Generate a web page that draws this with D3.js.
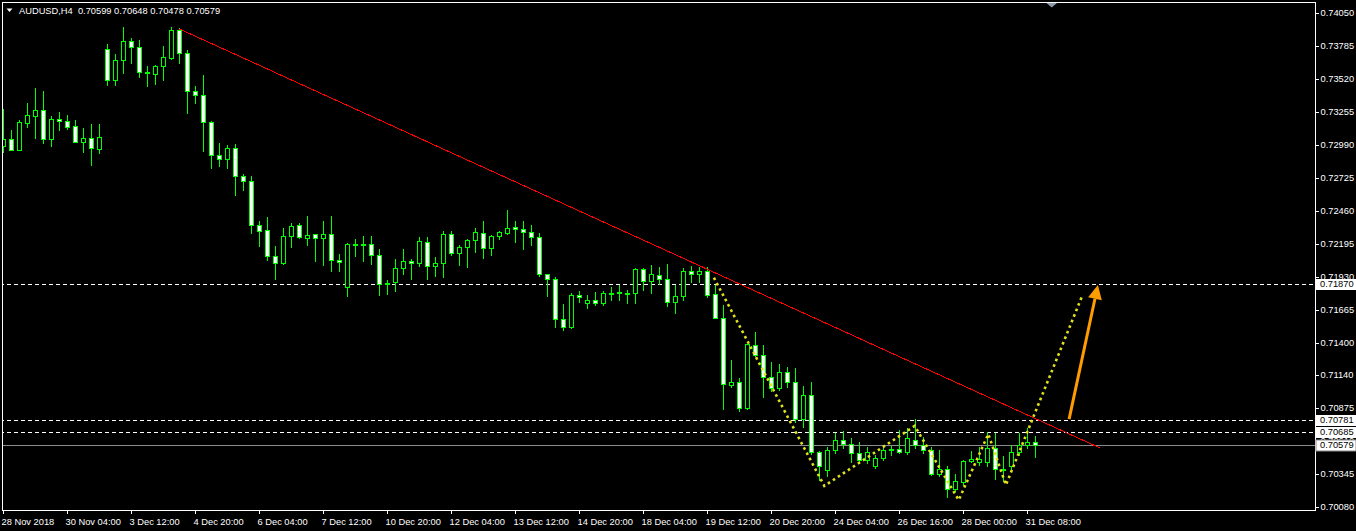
<!DOCTYPE html>
<html><head><meta charset="utf-8">
<script src="https://cdnjs.cloudflare.com/ajax/libs/d3/7.8.5/d3.min.js"></script>
<style>
html,body{margin:0;padding:0;background:#000;overflow:hidden}
svg{display:block}
text{font-family:"Liberation Sans",Arial,sans-serif;font-size:9.3px}
</style></head><body>
<script>
// ---------------- DATA ----------------
const symbolTitle = "AUDUSD,H4  0.70599 0.70648 0.70478 0.70579";

const opens = [0.72976,0.73040,0.72944,0.73161,0.73217,0.73273,0.73040,0.73193,0.73177,0.73137,
0.73016,0.73048,0.72952,0.73763,0.73514,0.73667,0.73827,0.73779,0.73578,0.73562,
0.73619,0.73683,0.73908,0.73731,0.73418,0.73386,0.73169,0.72904,0.72872,0.72960,
0.72743,0.72695,0.72349,0.72309,0.72100,0.72044,0.72253,0.72349,0.72237,0.72277,
0.72237,0.72277,0.72068,0.71851,0.72189,0.72189,0.72189,0.72108,0.71875,0.71884,
0.71996,0.72060,0.72044,0.72205,0.72020,0.72044,0.72277,0.72124,0.72165,0.72221,
0.72285,0.72157,0.72253,0.72285,0.72333,0.72317,0.72293,0.72245,0.71948,0.71908,
0.71594,0.71522,0.71787,0.71715,0.71739,0.71715,0.71803,0.71803,0.71803,0.71803,
0.71988,0.71892,0.71940,0.71908,0.71723,0.71771,0.71972,0.71948,0.71972,0.71795,
0.71602,0.71064,0.71088,0.70879,0.71385,0.71305,0.71128,0.71032,0.71161,0.71088,
0.70783,0.70976,0.70518,0.70381,0.70534,0.70622,0.70590,0.70510,0.70454,0.70413,
0.70470,0.70542,0.70542,0.70518,0.70622,0.70582,0.70534,0.70349,0.70389,0.70221,
0.70277,0.70446,0.70438,0.70438,0.70550,0.70389,0.70413,0.70518,0.70582,0.70599];

const highs = [0.73281,0.73105,0.73185,0.73329,0.73442,0.73418,0.73217,0.73257,0.73233,0.73185,
0.73121,0.73153,0.73153,0.73803,0.73723,0.73932,0.73844,0.73835,0.73619,0.73627,
0.73787,0.73932,0.73924,0.73755,0.73458,0.73554,0.73177,0.73008,0.72984,0.73000,
0.72759,0.72735,0.72374,0.72406,0.72173,0.72325,0.72365,0.72365,0.72414,0.72277,
0.72374,0.72414,0.72116,0.72197,0.72229,0.72261,0.72253,0.72149,0.71900,0.72076,
0.72149,0.72076,0.72245,0.72245,0.72092,0.72301,0.72301,0.72181,0.72229,0.72325,
0.72374,0.72269,0.72301,0.72462,0.72374,0.72374,0.72349,0.72285,0.71950,0.71924,
0.71707,0.71803,0.71819,0.71787,0.71811,0.71819,0.71851,0.71867,0.71827,0.71996,
0.71996,0.72028,0.72004,0.72036,0.71867,0.71996,0.72012,0.72004,0.72004,0.71867,
0.71699,0.71257,0.71120,0.71393,0.71482,0.71385,0.71241,0.71225,0.71201,0.71193,
0.71056,0.71088,0.70526,0.70566,0.70671,0.70687,0.70638,0.70606,0.70558,0.70494,
0.70574,0.70574,0.70695,0.70711,0.70783,0.70646,0.70566,0.70534,0.70413,0.70349,
0.70454,0.70526,0.70558,0.70679,0.70671,0.70486,0.70582,0.70671,0.70711,0.70648];

const lows = [0.72928,0.72944,0.72944,0.73129,0.73048,0.73008,0.72976,0.73105,0.73113,0.73016,
0.72928,0.72831,0.72920,0.73474,0.73474,0.73570,0.73643,0.73538,0.73458,0.73482,
0.73514,0.73675,0.73643,0.73249,0.73329,0.72936,0.72807,0.72823,0.72807,0.72590,
0.72623,0.72285,0.72173,0.72068,0.71908,0.72036,0.72165,0.72237,0.72181,0.72060,
0.72028,0.71972,0.71972,0.71771,0.72100,0.72060,0.72036,0.71787,0.71795,0.71819,
0.71948,0.71908,0.72012,0.71908,0.71932,0.71924,0.72108,0.72028,0.72004,0.72132,
0.72084,0.72108,0.72229,0.72277,0.72205,0.72149,0.72181,0.71932,0.71779,0.71522,
0.71498,0.71514,0.71723,0.71675,0.71699,0.71699,0.71739,0.71739,0.71715,0.71715,
0.71827,0.71803,0.71875,0.71691,0.71642,0.71739,0.71884,0.71884,0.71763,0.71602,
0.70871,0.71040,0.70855,0.70871,0.71289,0.70960,0.71008,0.71016,0.71040,0.70759,
0.70719,0.70502,0.70293,0.70333,0.70510,0.70550,0.70438,0.70438,0.70430,0.70397,
0.70454,0.70494,0.70510,0.70502,0.70550,0.70510,0.70341,0.70333,0.70164,0.70205,
0.70253,0.70438,0.70421,0.70413,0.70301,0.70285,0.70389,0.70494,0.70550,0.70478];

const closes = [0.73040,0.72944,0.73169,0.73225,0.73273,0.73040,0.73193,0.73177,0.73129,0.73016,
0.73048,0.72960,0.73056,0.73514,0.73667,0.73827,0.73779,0.73578,0.73570,0.73619,
0.73691,0.73908,0.73731,0.73418,0.73386,0.73169,0.72904,0.72872,0.72960,0.72743,
0.72695,0.72349,0.72301,0.72100,0.72044,0.72253,0.72341,0.72245,0.72269,0.72237,
0.72277,0.72068,0.72052,0.72189,0.72187,0.72191,0.72108,0.71875,0.71877,0.71996,
0.72060,0.72044,0.72213,0.72020,0.72044,0.72277,0.72124,0.72165,0.72221,0.72293,
0.72157,0.72253,0.72293,0.72325,0.72317,0.72293,0.72245,0.71948,0.71908,0.71594,
0.71522,0.71787,0.71763,0.71739,0.71715,0.71803,0.71801,0.71805,0.71801,0.71988,
0.71892,0.71948,0.71908,0.71723,0.71771,0.71972,0.71948,0.71972,0.71787,0.71602,
0.71072,0.71088,0.70879,0.71393,0.71305,0.71128,0.71032,0.71161,0.71088,0.70783,
0.70976,0.70518,0.70413,0.70534,0.70622,0.70590,0.70510,0.70454,0.70518,0.70470,
0.70534,0.70540,0.70518,0.70638,0.70582,0.70534,0.70349,0.70389,0.70221,0.70285,
0.70446,0.70462,0.70462,0.70550,0.70389,0.70387,0.70518,0.70582,0.70606,0.70579];

const priceTicks = [0.74050,0.73785,0.73520,0.73255,0.72990,0.72725,0.72460,0.72195,
  0.71930,0.71665,0.71400,0.71140,0.70875,0.70610,0.70345,0.70080];

const timeTickIndex = [0,8,16,24,32,40,48,56,64,72,80,88,96,104,112,120,128];
const timeTickLabels = ["28 Nov 2018","30 Nov 04:00","3 Dec 12:00","4 Dec 20:00","6 Dec 04:00",
  "7 Dec 12:00","10 Dec 20:00","12 Dec 04:00","13 Dec 12:00","14 Dec 20:00","18 Dec 04:00",
  "19 Dec 12:00","20 Dec 20:00","24 Dec 04:00","26 Dec 16:00","28 Dec 00:00","31 Dec 08:00"];

const dashedLevels = [0.71870, 0.70781, 0.70685];
const bidLevel = 0.70579;

const trendIdx = [22, 137];
const trendPrice = [0.73924, 0.70560];

const zigIdx   = [88.8, 102.6, 113.9, 119.4, 123.1, 125.3, 134.9];
const zigPrice = [0.71926, 0.70253, 0.70735, 0.70140, 0.70670, 0.70261, 0.71790];

const arrowIdx = [133.2, 136.8];
const arrowPrice = [0.70790, 0.71867];

// ---------------- DRAW ----------------
const W = 1356, H = 531;
const pL = 2, pT = 2, pR = 1315, pB = 510;
const N = opens.length;

const svg = d3.select("body").append("svg").attr("width", W).attr("height", H);
svg.append("rect").attr("width", W).attr("height", H).attr("fill", "#000");

const x = d3.scaleLinear().domain([0, N - 1]).range([3.5, 3.5 + 8 * (N - 1)]);
const y = d3.scaleLinear().domain([0.70080, 0.74050]).range([507.5, 13.3]);
const py = v => Math.floor(y(v)) + 0.5;

svg.append("defs").append("clipPath").attr("id", "plot")
  .append("rect").attr("x", pL).attr("y", pT).attr("width", pR - pL).attr("height", pB - pT);

const plot = svg.append("g").attr("clip-path", "url(#plot)");

// level lines
plot.selectAll("line.lvl").data(dashedLevels).join("line")
  .attr("x1", 0).attr("x2", pR).attr("y1", d => py(d)).attr("y2", d => py(d))
  .attr("stroke", "#fff").attr("stroke-width", 1).attr("stroke-dasharray", "4,3")
  .attr("shape-rendering", "crispEdges");
plot.append("line").attr("x1", 0).attr("x2", pR).attr("y1", py(bidLevel)).attr("y2", py(bidLevel))
  .attr("stroke", "#8c8c8c").attr("stroke-width", 1).attr("shape-rendering", "crispEdges");

// candles
const idx = d3.range(N);
const cg = plot.append("g").attr("shape-rendering", "crispEdges");
cg.selectAll("line.wick").data(idx).join("line")
  .attr("x1", i => x(i)).attr("x2", i => x(i))
  .attr("y1", i => Math.floor(y(highs[i]))).attr("y2", i => Math.floor(y(lows[i])) + 1)
  .attr("stroke", "#00ff00").attr("stroke-width", 1);
cg.selectAll("rect.body").data(idx).join("rect")
  .attr("x", i => x(i) - 2).attr("width", 4)
  .attr("y", i => py(Math.max(opens[i], closes[i])))
  .attr("height", i => Math.max(1, py(Math.min(opens[i], closes[i])) - py(Math.max(opens[i], closes[i]))))
  .attr("fill", i => closes[i] > opens[i] ? "#000" : "#fff")
  .attr("stroke", "#00ff00").attr("stroke-width", 1);

// trend line
plot.append("line")
  .attr("x1", x(trendIdx[0])).attr("y1", y(trendPrice[0]))
  .attr("x2", x(trendIdx[1])).attr("y2", y(trendPrice[1]))
  .attr("stroke", "#ff0000").attr("stroke-width", 1).attr("shape-rendering", "crispEdges");

// yellow zigzag
const zig = d3.line().x(d => x(d[0])).y(d => y(d[1]));
plot.append("path").datum(zigIdx.map((v, k) => [v, zigPrice[k]]))
  .attr("d", zig).attr("fill", "none")
  .attr("stroke", "#e2e21c").attr("stroke-width", 2.6).attr("stroke-dasharray", "2.6,3.4");

// orange arrow
const ax0 = x(arrowIdx[0]), ay0 = y(arrowPrice[0]), ax1 = x(arrowIdx[1]), ay1 = y(arrowPrice[1]);
const ang = Math.atan2(ay1 - ay0, ax1 - ax0);
const hl = 14, hw = 7;
const bx = ax1 - hl * Math.cos(ang), by = ay1 - hl * Math.sin(ang);
plot.append("line").attr("x1", ax0).attr("y1", ay0).attr("x2", bx).attr("y2", by)
  .attr("stroke", "#ff9c00").attr("stroke-width", 3);
plot.append("polygon")
  .attr("points", [[ax1, ay1],
    [bx + hw * Math.sin(ang), by - hw * Math.cos(ang)],
    [bx - hw * Math.sin(ang), by + hw * Math.cos(ang)]].map(p => p.join(",")).join(" "))
  .attr("fill", "#ff9c00");

// frame
svg.append("rect").attr("x", pL + 0.5).attr("y", pT + 0.5)
  .attr("width", pR - pL).attr("height", pB - pT)
  .attr("fill", "none").attr("stroke", "#fff").attr("stroke-width", 1).attr("shape-rendering", "crispEdges");

// price axis
const yAxis = d3.axisRight(y).tickValues(priceTicks).tickFormat(d3.format(".5f")).tickSize(3).tickPadding(3);
const ya = svg.append("g").attr("transform", `translate(${pR + 0.5},0)`).call(yAxis);
ya.select(".domain").remove();
ya.selectAll(".tick").attr("transform", d => `translate(0,${py(d)})`);
ya.selectAll("line").attr("stroke", "#fff").attr("shape-rendering", "crispEdges");
ya.selectAll("text").attr("fill", "#fff").attr("font-family", null).attr("font-size", null).attr("x", 5);

// highlighted price labels
const hlLevels = dashedLevels.concat([bidLevel]);
const hg = svg.append("g");
hlLevels.forEach(v => {
  const cy = py(v);
  hg.append("rect").attr("x", pR + 1).attr("y", cy - 5.5).attr("width", W - pR - 1).attr("height", 11)
    .attr("fill", "#fff").attr("stroke", v === bidLevel ? "#8c8c8c" : "none");
  hg.append("text").attr("x", pR + 5).attr("y", cy).attr("dy", "0.32em")
    .attr("fill", "#000").text(d3.format(".5f")(v));
});

// time axis
const xAxis = d3.axisBottom(x).tickValues(timeTickIndex).tickFormat((d, k) => timeTickLabels[k]).tickSize(3).tickPadding(3);
const xa = svg.append("g").attr("transform", `translate(0,${pB + 0.5})`).call(xAxis);
xa.select(".domain").remove();
xa.selectAll(".tick").attr("transform", d => `translate(${x(d)},0)`);
xa.selectAll("line").attr("stroke", "#fff").attr("shape-rendering", "crispEdges");
xa.selectAll("text").attr("fill", "#fff").attr("font-family", null).attr("font-size", null)
  .attr("text-anchor", "start").attr("x", -2).attr("dy", "0.9em");

// title
svg.append("polygon").attr("points", "6.5,8.5 12.5,8.5 9.5,12").attr("fill", "#fff");
svg.append("text").attr("x", 19).attr("y", 14.3).attr("fill", "#fff").text(symbolTitle)
  .style("white-space", "pre");

// chart shift marker
svg.append("polygon").attr("points", "1046.5,3 1057,3 1051.7,7.5").attr("fill", "#8a9aac");
</script>
</body></html>
